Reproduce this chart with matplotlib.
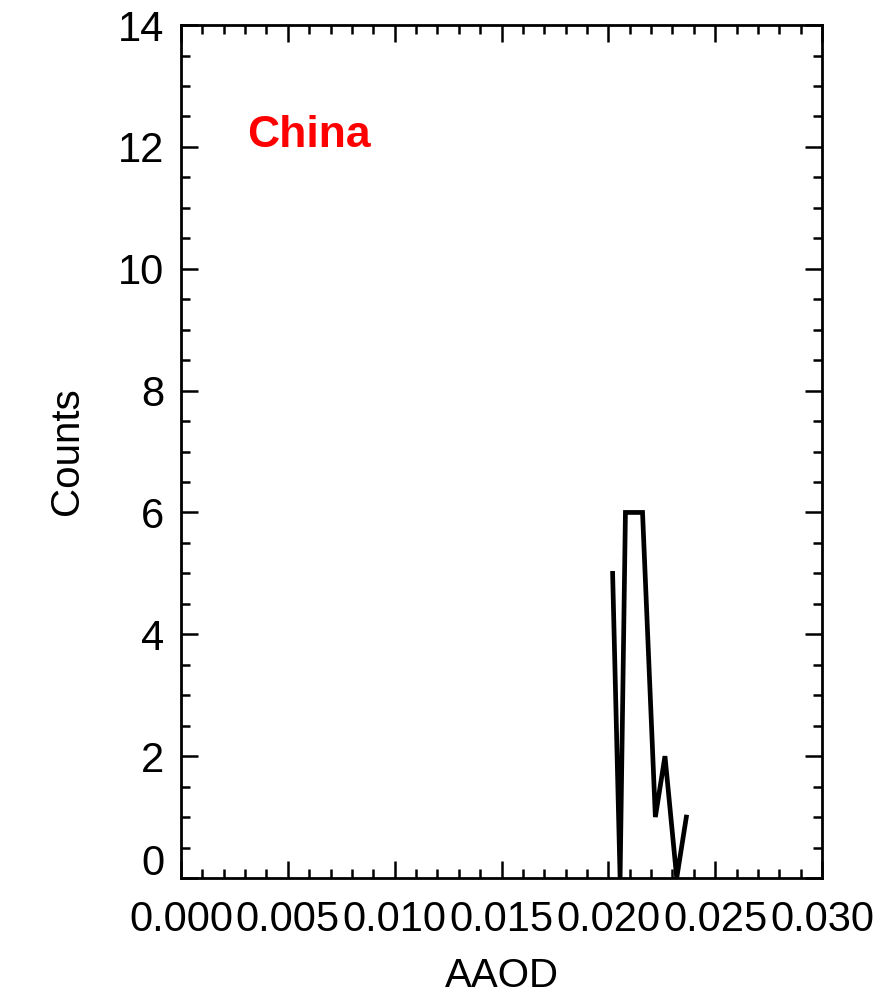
import matplotlib
matplotlib.use("Agg")
import matplotlib.pyplot as plt
import matplotlib.transforms as mtransforms
from matplotlib.ticker import MultipleLocator, FormatStrFormatter

plt.rcParams["font.family"] = ["Liberation Sans", "DejaVu Sans"]

# AAOD histogram for the region
aaod = [0.0202, 0.02055, 0.0208, 0.0216, 0.0222, 0.02265, 0.0232, 0.02365]
counts = [5, 0, 6, 6, 1, 2, 0, 1]
region = "China"

fig = plt.figure(figsize=(8.82, 9.94), dpi=100)
ax = fig.add_axes([0.2052, 0.1167, 0.7268, 0.8581])

ax.plot(aaod, counts, color="black", linewidth=3.4, solid_joinstyle="miter")

ax.set_xlim(0.0, 0.030)
ax.set_ylim(0, 14)
ax.xaxis.set_major_locator(MultipleLocator(0.005))
ax.xaxis.set_minor_locator(MultipleLocator(0.001))
ax.yaxis.set_major_locator(MultipleLocator(2))
ax.yaxis.set_minor_locator(MultipleLocator(0.5))
ax.xaxis.set_major_formatter(FormatStrFormatter("%.3f"))
ax.yaxis.set_major_formatter(FormatStrFormatter("%d"))

ax.tick_params(which="both", direction="in", top=True, right=True,
               width=1.8, colors="black")
ax.tick_params(which="major", length=12)
ax.tick_params(which="minor", length=6.5)
ax.tick_params(axis="x", which="major", labelsize=30, pad=16)
ax.tick_params(axis="y", which="major", labelsize=30, pad=12)
for s in ax.spines.values():
    s.set_linewidth(2.0)

ax.set_xlabel("AAOD", fontsize=29, labelpad=12)
ax.set_ylabel("Counts", fontsize=29, labelpad=23)

fig.canvas.draw()
# lift the "0" label on the y axis clear of the x labels
for tick in ax.yaxis.get_major_ticks():
    if abs(tick.get_loc()) < 1e-9:
        lbl = tick.label1
        lbl.set_transform(lbl.get_transform()
                          + mtransforms.ScaledTranslation(0, 13 / 72, fig.dpi_scale_trans))

ax.text(0.103, 0.87, region, transform=ax.transAxes, color="red",
        fontsize=32, fontweight="bold", ha="left", va="center")

fig.savefig("out.png", dpi=100)
